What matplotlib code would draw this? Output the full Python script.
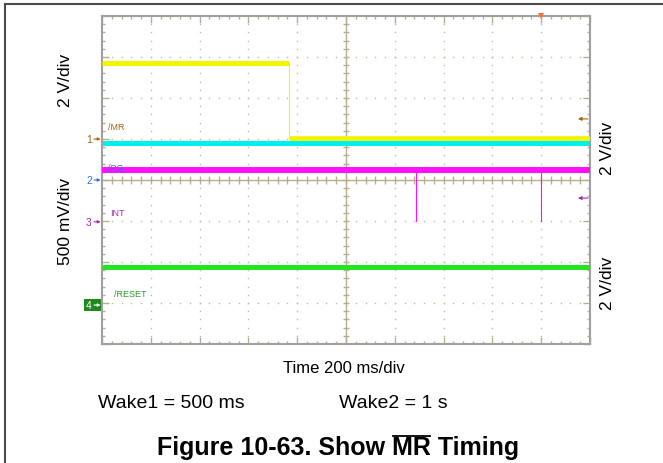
import numpy as np
import matplotlib
matplotlib.use("Agg")
import matplotlib.pyplot as plt
from matplotlib.lines import Line2D
from matplotlib.patches import Rectangle

plt.rcParams['font.family'] = ['Liberation Sans', 'DejaVu Sans']

# scope screen: 10 x 8 divisions, center at (5, 0)
yellow_t = [0, 3.83, 10]
yellow_v = [2.85, 1.02]
cyan_v = 0.90
magenta_v = 0.24
int_pulse_t = [6.43, 9.0]
int_pulse_low = -1.0
green_v = -2.12

ch_nums = ['1', '2', '3', '4']
ch_levels = [1.0, 0.0, -1.02, -3.05]
ch_names = ['/MR', '/PG', 'INT', '/RESET']
ch_colors = ['#b0600f', '#2f6fd8', '#a22aa8', '#2a9a2a']
ch_label_y = [0.30, 0.30, 0.22, 0.28]
ch_label_dx = [6, 6, 8, 12]
right_arrows = [(1.49, '#b0600f'), (-0.44, '#a22aa8')]
trig_t = 9.0

W, H = 663, 464
fig = plt.figure(figsize=(W / 100, H / 100), dpi=100)

def fx(px):
    return px / W

def fy(py):
    return 1 - py / H

# outer frame (top and left)
fig.add_artist(Line2D([fx(5), fx(663)], [fy(5), fy(5)], color='#4a4a4a', lw=1.5))
fig.add_artist(Line2D([fx(5), fx(5)], [fy(5), fy(464)], color='#4a4a4a', lw=1.5))

ax = fig.add_axes([fx(102), fy(345), fx(590) - fx(102), fy(17) - fy(345)])
ax.set_xlim(0, 10)
ax.set_ylim(-4, 4)

tan = '#b8ae8e'
for s in ax.spines.values():
    s.set_color('#a0a0a0')
    s.set_linewidth(1.5)
ax.set_xticks(np.arange(0, 11, 1))
ax.set_yticks(np.arange(-4, 5, 1))
ax.set_xticks(np.arange(0, 10.01, 0.2), minor=True)
ax.set_yticks(np.arange(-4, 4.01, 0.2), minor=True)
ax.tick_params(which='both', direction='in', top=True, right=True,
               labelbottom=False, labelleft=False, color=tan, width=1)
ax.tick_params(which='major', length=5)
ax.tick_params(which='minor', length=2.5)

# dotted grid
minor_x = np.arange(0.2, 10, 0.2)
minor_y = np.arange(-3.8, 4, 0.2)
for gx in [1, 2, 3, 4, 6, 7, 8, 9]:
    ax.plot(np.full_like(minor_y, gx), minor_y, ls='none', marker='s',
            ms=1.0, mew=0, color='#c2b99c', zorder=1)
for gy in [-3, -2, -1, 1, 2, 3]:
    ax.plot(minor_x, np.full_like(minor_x, gy), ls='none', marker='s',
            ms=1.0, mew=0, color='#c2b99c', zorder=1)

# center axes with ticks
ax.axhline(0, color=tan, lw=1, zorder=1)
ax.axvline(5, color=tan, lw=1, zorder=1)
ax.vlines(minor_x, -0.09, 0.09, color=tan, lw=1, zorder=1)
ax.hlines(minor_y, 4.93, 5.07, color=tan, lw=1, zorder=1)

# traces
ax.plot(yellow_t[:2], [yellow_v[0]] * 2, color='#f4f400', lw=3.6,
        solid_capstyle='butt', zorder=3)
ax.plot([yellow_t[1]] * 2, yellow_v, color='#f4f400', lw=0.8, zorder=3)
ax.plot([0, 10], [cyan_v] * 2, color='#00f0f0', lw=3.6,
        solid_capstyle='butt', zorder=2)
ax.plot(yellow_t[1:], [yellow_v[1]] * 2, color='#f4f400', lw=3.4,
        solid_capstyle='butt', zorder=3)
ax.plot([0, 10], [magenta_v] * 2, color='#ff10ff', lw=4.3,
        solid_capstyle='butt', zorder=3)
for t in int_pulse_t:
    ax.plot([t, t], [magenta_v, int_pulse_low], color='#ff10ff', lw=0.8, zorder=3)
ax.plot([0, 10], [green_v] * 2, color='#22e622', lw=3.6,
        solid_capstyle='butt', zorder=3)

# channel markers on the left
ytr = ax.get_yaxis_transform()
for num, lvl, name, c, dy, dx in zip(ch_nums, ch_levels, ch_names, ch_colors,
                                     ch_label_y, ch_label_dx):
    if num == '4':
        ax.add_patch(Rectangle((-18 / 488, lvl - 0.15), 17 / 488, 0.30,
                               transform=ytr, fc='#1e8a1e', ec='none',
                               clip_on=False, zorder=4))
        ax.text(-13 / 488, lvl, num, transform=ytr, ha='center', va='center',
                fontsize=7.5, color='white', clip_on=False, zorder=5)
        ac = 'white'
    else:
        ax.text(-13 / 488, lvl, num, transform=ytr, ha='center', va='center',
                fontsize=7.5, color=c, clip_on=False)
        ac = c
    ax.annotate('', xy=(0, lvl), xycoords=ytr, xytext=(-8, 0),
                textcoords='offset pixels', annotation_clip=False, zorder=5,
                arrowprops=dict(arrowstyle='-|>', color=ac, lw=0.8,
                                mutation_scale=4, shrinkA=0, shrinkB=1))
    ax.text(dx / 488, lvl + dy, name, transform=ytr, ha='left', va='center',
            fontsize=6.5, color=c, zorder=5)

for lvl, c in right_arrows:
    ax.annotate('', xy=(1 - 12 / 488, lvl), xycoords=ytr, xytext=(10, 0),
                textcoords='offset pixels', annotation_clip=False,
                arrowprops=dict(arrowstyle='-|>', color=c, lw=0.8,
                                mutation_scale=5, shrinkA=0, shrinkB=0))

ax.plot(trig_t, 4, marker='v', color='#ff7030', ms=4, mew=0, clip_on=False, zorder=6)

# scale labels
fig.text(fx(65), fy(80), '2 V/div', rotation=90, ha='center', va='center', fontsize=12.5)
fig.text(fx(65), fy(221), '500 mV/div', rotation=90, ha='center', va='center', fontsize=12.5)
fig.text(fx(608), fy(148), '2 V/div', rotation=90, ha='center', va='center', fontsize=12.5)
fig.text(fx(608), fy(283), '2 V/div', rotation=90, ha='center', va='center', fontsize=12.5)

fig.text(fx(344), fy(369), 'Time 200 ms/div', ha='center', va='center', fontsize=12)
fig.text(fx(98), fy(404), 'Wake1 = 500 ms', ha='left', va='center', fontsize=14)
fig.text(fx(339), fy(404), 'Wake2 = 1 s', ha='left', va='center', fontsize=14)

# title with overlined MR
parts = ['Figure 10-63. Show ', 'MR', ' Timing']
tkw = dict(fontsize=18, fontweight='bold', va='center', ha='left')
renderer = fig.canvas.get_renderer()
widths = []
for p in parts:
    t = fig.text(0, 0, p, **tkw)
    widths.append(t.get_window_extent(renderer).width)
    t.remove()
full = fig.text(0, 0, ''.join(parts), **tkw)
total = full.get_window_extent(renderer).width
full.remove()
x0 = 338 - total / 2
fig.text(fx(x0), fy(448), ''.join(parts), **tkw)
t_pre = fig.text(0, 0, parts[0], **tkw)
pre_w = t_pre.get_window_extent(renderer).width
t_pre.remove()
fig.add_artist(Line2D([fx(x0 + pre_w + 1), fx(x0 + pre_w + widths[1] - 1)],
                      [fy(437), fy(437)], color='black', lw=1.3))

fig.savefig('out.png', dpi=100)
